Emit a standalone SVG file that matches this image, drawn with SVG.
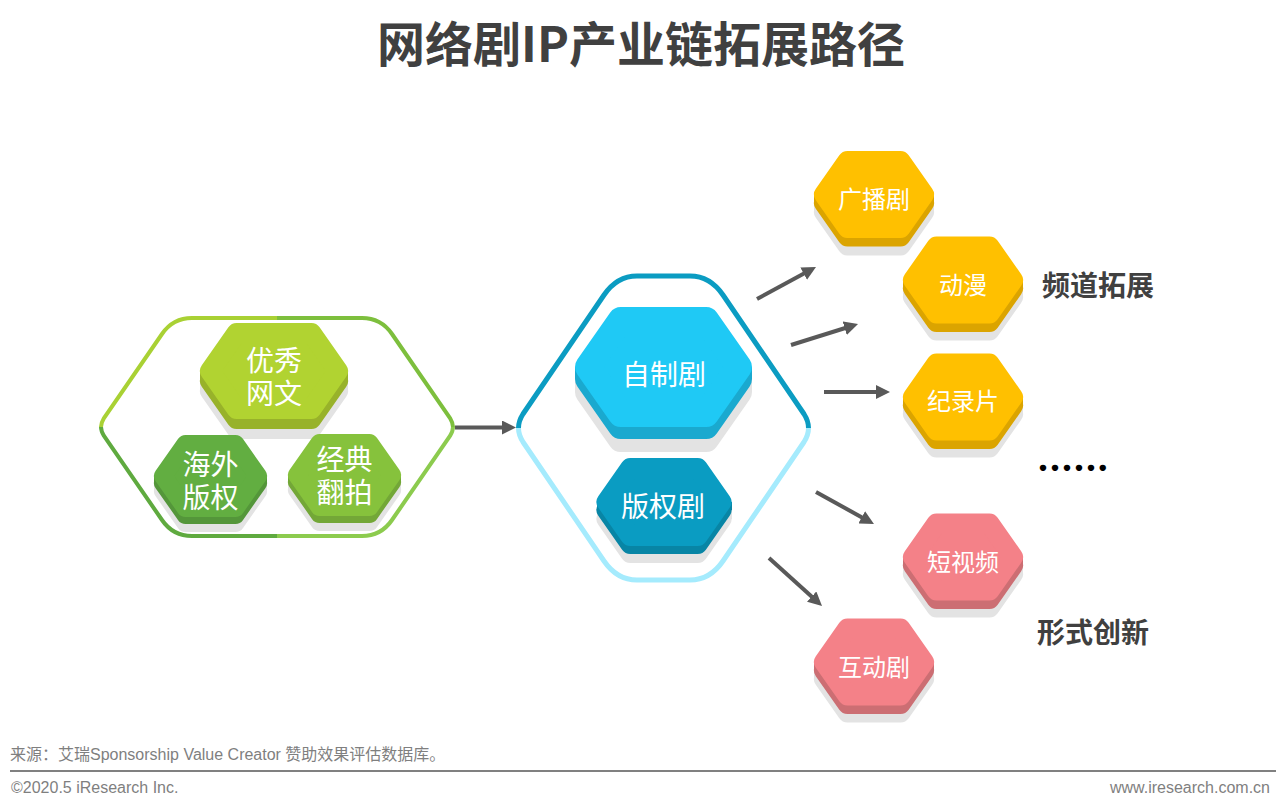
<svg xmlns="http://www.w3.org/2000/svg" width="1280" height="812" viewBox="0 0 1280 812">
<style>
.s{color:#e3e3e3}
.hx{fill:currentColor;stroke:currentColor;stroke-linejoin:round}
text{font-family:"Noto Sans CJK SC","Liberation Sans",sans-serif}
.t{fill:#fff;text-anchor:middle}
.t28{font-size:28px}.t24{font-size:24px}
.h{fill:#404040;font-size:28px;font-weight:700}
.f{fill:#7f7f7f;font-family:"Liberation Sans","Noto Sans CJK SC",sans-serif;font-size:16px}
.o{fill:none;stroke-linecap:butt}
.a{stroke:#595959;stroke-width:4;fill:none;marker-end:url(#ah)}
</style>
<defs>
<marker id="ah" markerUnits="userSpaceOnUse" markerWidth="14" markerHeight="14" refX="4" refY="7" orient="auto"><path d="M0 0L14 7L0 14Z" fill="#595959"/></marker>
<polygon id="hA" class="hx" stroke-width="20" points="-64,0 -37.400,-38 37.400,-38 64,0 37.400,38 -37.400,38"/>
<polygon id="hB" class="hx" stroke-width="18" points="-47.500,0 -25,-32 25,-32 47.500,0 25,32 -25,32"/>
<polygon id="hC" class="hx" stroke-width="26" points="-75.500,0 -42.600,-47 42.600,-47 75.500,0 42.600,47 -42.600,47"/>
<polygon id="hD" class="hx" stroke-width="20" points="-57.500,0 -33.700,-34 33.700,-34 57.500,0 33.700,34 -33.700,34"/>
<polygon id="hE" class="hx" stroke-width="20" points="-50,0 -26.500,-33.500 26.500,-33.500 50,0 26.500,33.500 -26.500,33.500"/>
</defs>
<text x="641" y="62" text-anchor="middle" font-size="48" font-weight="700" fill="#404040">网络剧IP产业链拓展路径</text>

<g id="connectors">
<path class="a" d="M455 427.500L506 427.500"/>
<path class="a" d="M757 299L807.200 271.800"/>
<path class="a" d="M791 345L848.500 327"/>
<path class="a" d="M824 392L880 392"/>
<path class="a" d="M816 492L865.200 519.200"/>
<path class="a" d="M769 558L814.600 599.300"/>
</g>

<g id="outline-green" class="o" stroke-width="4">
<path stroke="#a9d134" d="M101 427Q101 423 104 418L162 334Q173 318 192 318L277 318"/>
<path stroke="#7dbf3d" d="M453 427Q453 423 450 418L392 334Q381 318 362 318L277 318"/>
<path stroke="#5faa3f" d="M101 427Q101 431 104 436L162 520Q173 536 192 536L277 536"/>
<path stroke="#8ccb4e" d="M453 427Q453 431 450 436L392 520Q381 536 362 536L277 536"/>
</g>
<g id="outline-blue" class="o" stroke-width="5">
<path stroke="#0b9cc2" d="M518.500 428Q518.500 421 523 414L604 295Q617 276 637 276L690 276Q710 276 723 295L804 414Q808.500 421 808.500 428"/>
<path stroke="#a5ebfd" d="M518.500 428Q518.500 435 523 442L604 561Q617 580 637 580L690 580Q710 580 723 561L804 442Q808.500 435 808.500 428"/>
</g>

<g id="n-youxiu">
<rect x="200" y="371" width="148" height="20" fill="#e3e3e3"/><use href="#hA" class="s" x="274" y="391"/>
<rect x="200" y="371" width="148" height="10" fill="#98b22a"/><use href="#hA" style="color:#98b22a" x="274" y="381"/><use href="#hA" style="color:#b1d331" x="274" y="371"/>
<text class="t t28"><tspan x="274" y="371">优秀</tspan><tspan x="274" y="404">网文</tspan></text>
</g>
<g id="n-haiwai">
<rect x="154" y="476" width="113" height="15" fill="#e3e3e3"/><use href="#hB" class="s" x="210.500" y="491"/>
<rect x="154" y="476" width="113" height="7" fill="#54963a"/><use href="#hB" style="color:#54963a" x="210.500" y="483"/><use href="#hB" style="color:#62ae41" x="210.500" y="476"/>
<text class="t t28"><tspan x="210.500" y="475">海外</tspan><tspan x="210.500" y="508">版权</tspan></text>
</g>
<g id="n-jingdian">
<rect x="288" y="475" width="113" height="15" fill="#e3e3e3"/><use href="#hB" class="s" x="344.500" y="490"/>
<rect x="288" y="475" width="113" height="7" fill="#73a737"/><use href="#hB" style="color:#73a737" x="344.500" y="482"/><use href="#hB" style="color:#86c23c" x="344.500" y="475"/>
<text class="t t28"><tspan x="344.500" y="470">经典</tspan><tspan x="344.500" y="503">翻拍</tspan></text>
</g>
<g id="n-zizhi">
<rect x="575" y="367" width="177" height="25" fill="#e3e3e3"/><use href="#hC" class="s" x="663.500" y="392"/>
<rect x="575" y="367" width="177" height="12" fill="#1aa9cf"/><use href="#hC" style="color:#1aa9cf" x="663.500" y="379"/><use href="#hC" style="color:#1fc9f5" x="663.500" y="367"/>
<text class="t t28" x="664" y="385">自制剧</text>
</g>
<g id="n-banquan">
<rect x="597" y="502" width="135" height="17" fill="#e3e3e3"/><use href="#hD" class="s" x="664" y="519"/>
<rect x="597" y="502" width="135" height="8" fill="#0885a5"/><use href="#hD" style="color:#0885a5" x="664" y="510"/><use href="#hD" style="color:#0a9cc2" x="664" y="502"/>
<text class="t t28" x="663" y="517">版权剧</text>
</g>
<g id="n-guangbo">
<rect x="814" y="194.500" width="120" height="17.500" fill="#e3e3e3"/><use href="#hE" class="s" x="874" y="212"/>
<rect x="814" y="194.500" width="120" height="8.500" fill="#dba400"/><use href="#hE" style="color:#dba400" x="874" y="203"/><use href="#hE" style="color:#ffc000" x="874" y="194.500"/>
<text class="t t24" x="874" y="208">广播剧</text>
</g>
<g id="n-dongman">
<rect x="903" y="280" width="120" height="17" fill="#e3e3e3"/><use href="#hE" class="s" x="963" y="297"/>
<rect x="903" y="280" width="120" height="8.500" fill="#dba400"/><use href="#hE" style="color:#dba400" x="963" y="288.500"/><use href="#hE" style="color:#ffc000" x="963" y="280"/>
<text class="t t24" x="963" y="294">动漫</text>
</g>
<g id="n-jilu">
<rect x="903" y="397" width="120" height="17" fill="#e3e3e3"/><use href="#hE" class="s" x="963" y="414"/>
<rect x="903" y="397" width="120" height="8.500" fill="#dba400"/><use href="#hE" style="color:#dba400" x="963" y="405.500"/><use href="#hE" style="color:#ffc000" x="963" y="397"/>
<text class="t t24" x="963" y="410">纪录片</text>
</g>
<g id="n-duan">
<rect x="903" y="557" width="120" height="17" fill="#e3e3e3"/><use href="#hE" class="s" x="963" y="574"/>
<rect x="903" y="557" width="120" height="8.500" fill="#cc6e73"/><use href="#hE" style="color:#cc6e73" x="963" y="565.500"/><use href="#hE" style="color:#f48188" x="963" y="557"/>
<text class="t t24" x="963" y="571">短视频</text>
</g>
<g id="n-hudong">
<rect x="814" y="662" width="120" height="17" fill="#e3e3e3"/><use href="#hE" class="s" x="874" y="679"/>
<rect x="814" y="662" width="120" height="8.500" fill="#cc6e73"/><use href="#hE" style="color:#cc6e73" x="874" y="670.500"/><use href="#hE" style="color:#f48188" x="874" y="662"/>
<text class="t t24" x="874" y="676">互动剧</text>
</g>

<text class="h" x="1042" y="296">频道拓展</text>
<text class="h" x="1037" y="643">形式创新</text>
<text x="1038" y="471" font-size="42" font-weight="700" letter-spacing="2" fill="#000" style="font-family:Lato,sans-serif">......</text>

<text class="f" x="10" y="760">来源：艾瑞Sponsorship Value Creator 赞助效果评估数据库。</text>
<line x1="10" y1="771" x2="1276" y2="771" stroke="#808080" stroke-width="2"/>
<text class="f" x="11" y="793">©2020.5 iResearch Inc.</text>
<text class="f" x="1270" y="793" text-anchor="end">www.iresearch.com.cn</text>
</svg>
